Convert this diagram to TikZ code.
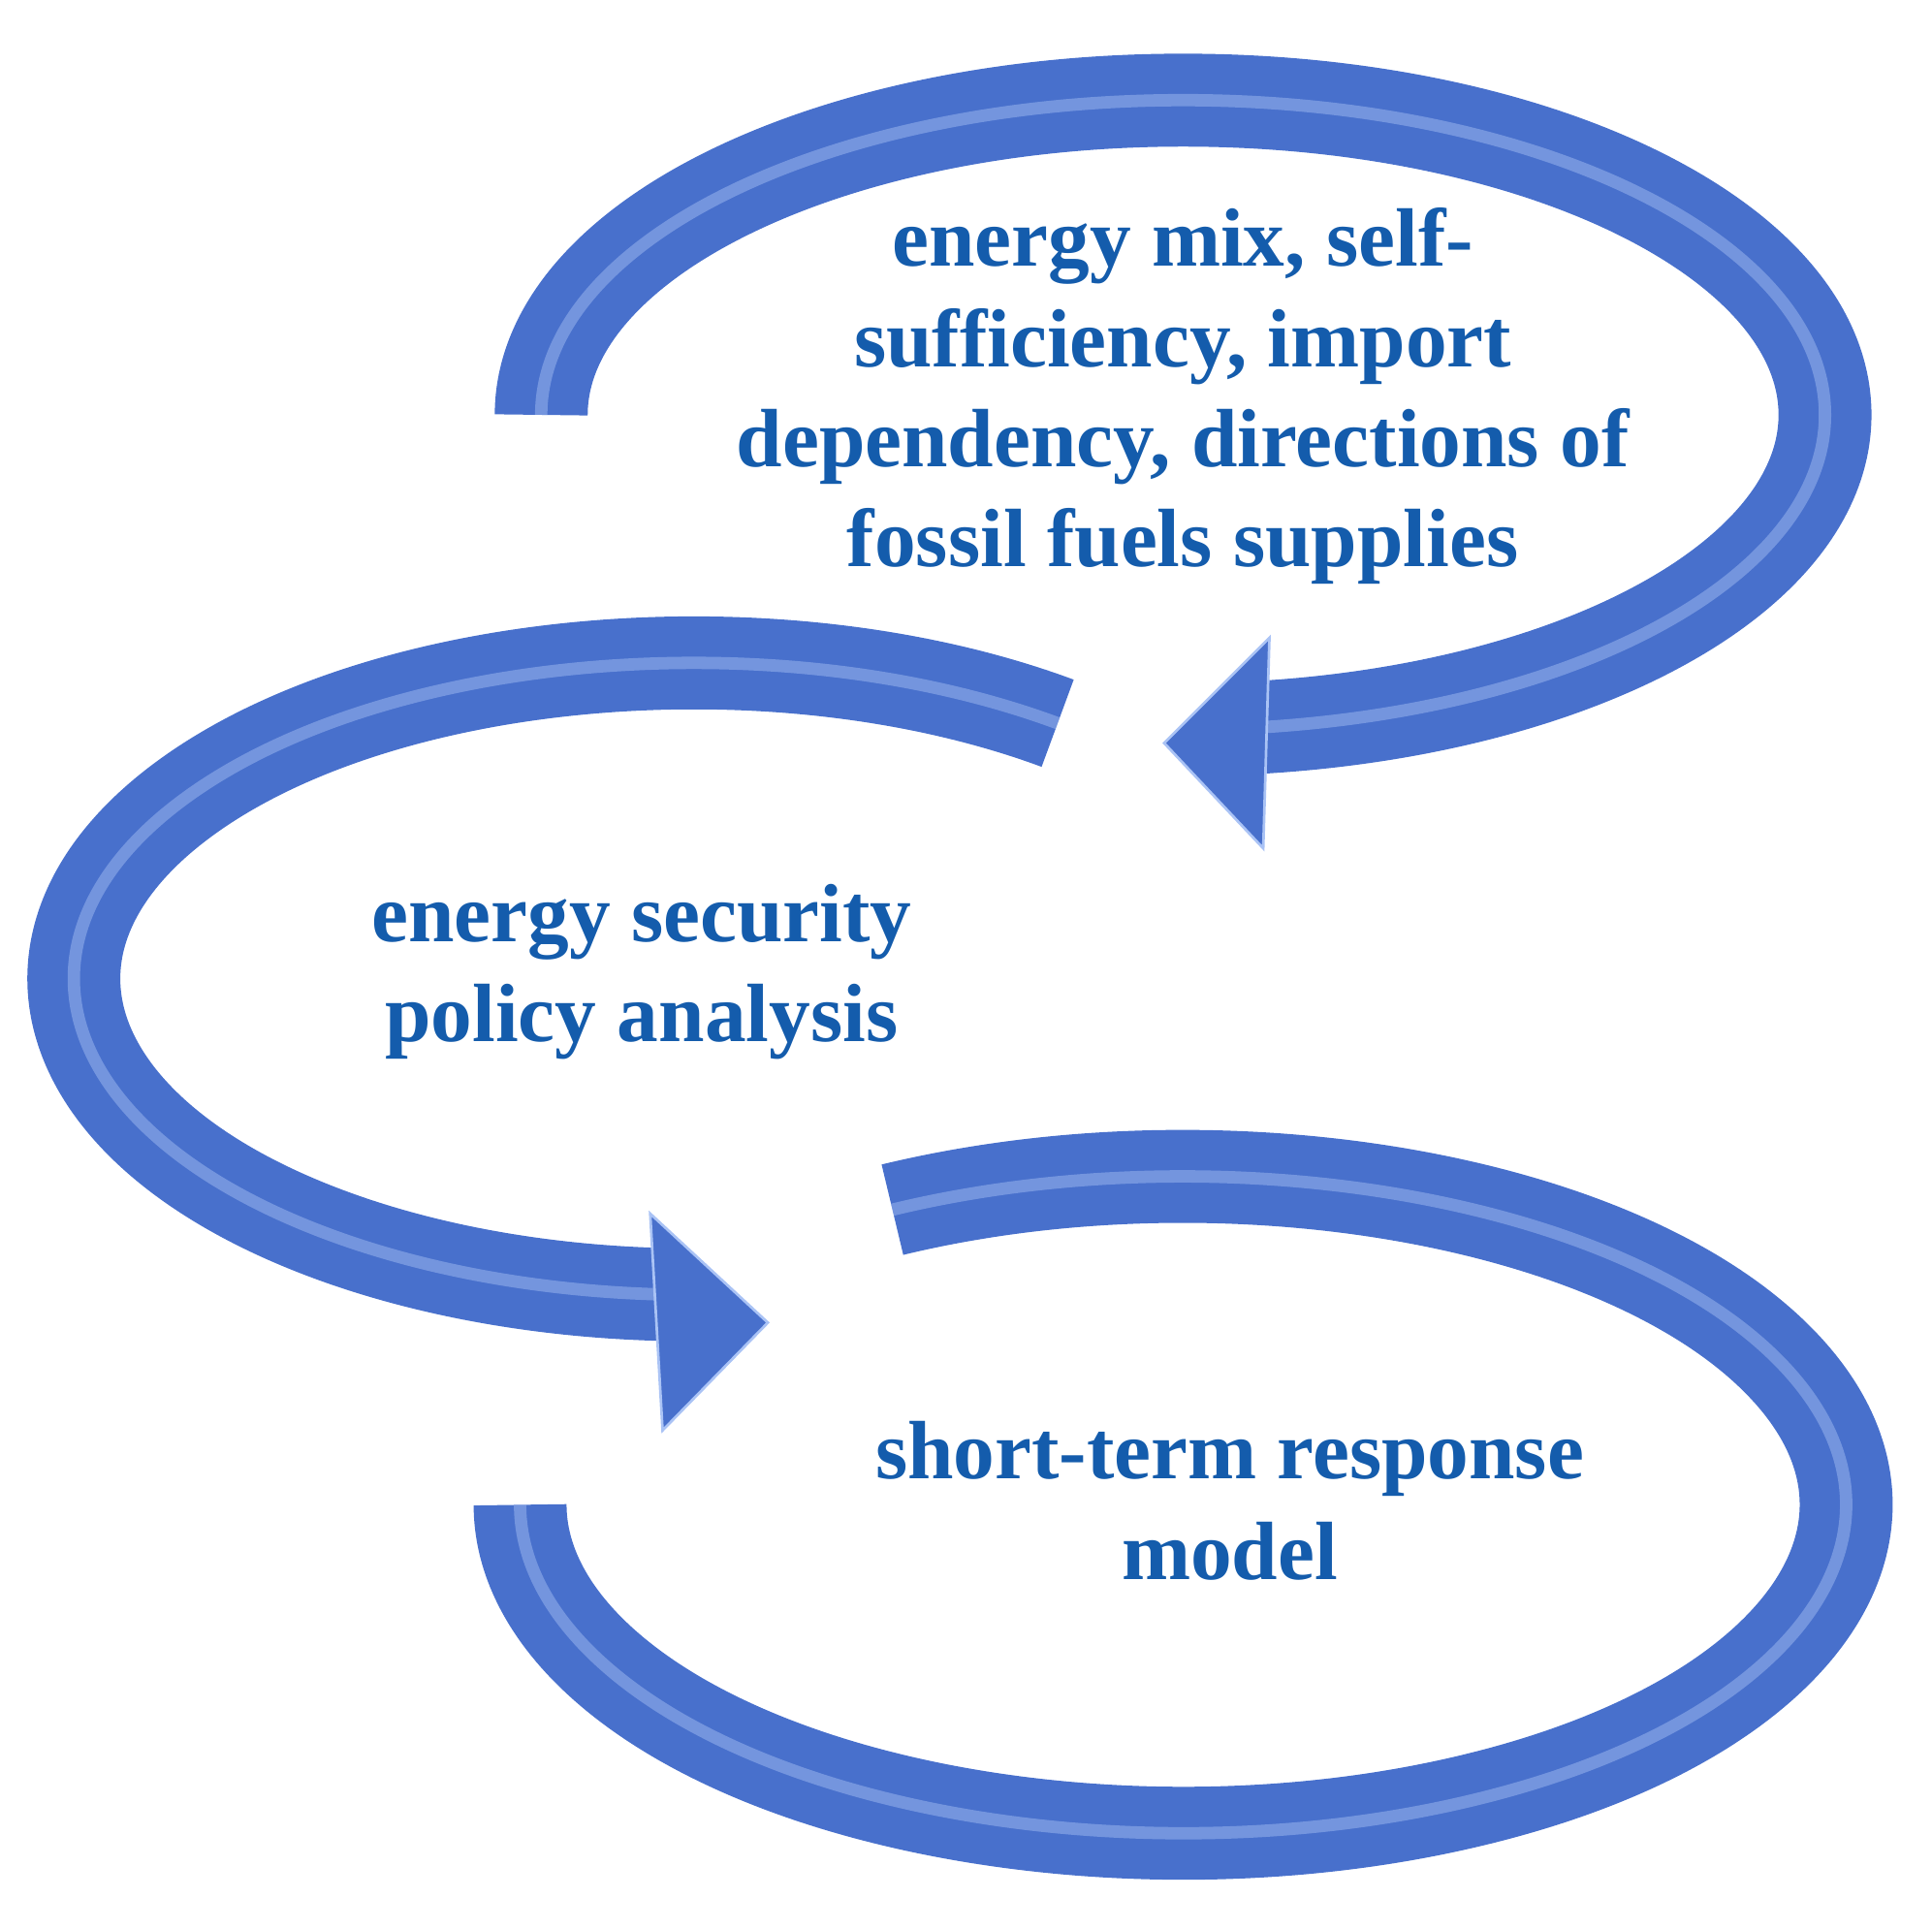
\documentclass[tikz,border=0pt]{standalone}
\usepackage{fontspec}
\setmainfont{Liberation Serif}
\definecolor{loopblue}{RGB}{72,112,204}
\definecolor{loopshine}{RGB}{170,195,245}
\definecolor{labelblue}{RGB}{20,92,172}
\tikzset{
  loop band/.style={line width=0.75cm, draw=loopblue, line cap=butt},
  loop shine/.style={line width=0.1cm, draw=loopshine, opacity=0.45, line cap=butt},
  loop head/.style={fill=loopblue, draw=loopshine, line width=0.6pt, line join=miter},
  label text/.style={text=labelblue, align=center, font=\bfseries\fontsize{19}{23}\selectfont}
}
\begin{document}
\begin{tikzpicture}[x=0.01cm,y=0.01cm]
  \useasboundingbox (0,0) rectangle (1560,-1557);
  % top loop
  \draw[loop band] (437,-335) arc[start angle=180, end angle=-85, x radius=5.18cm, y radius=2.54cm];
  \draw[loop shine] (437,-335) arc[start angle=180, end angle=-85, x radius=5.18cm, y radius=2.54cm];
  \fill[loop head] (1025,-515) -- (940,-600) -- (1020,-685) -- cycle;
  % middle loop
  \draw[loop band] (854,-584) arc[start angle=54, end angle=268, x radius=5cm, y radius=2.55cm];
  \draw[loop shine] (854,-584) arc[start angle=54, end angle=268, x radius=5cm, y radius=2.55cm];
  \fill[loop head] (525,-980) -- (620,-1068) -- (535,-1155) -- cycle;
  % bottom loop
  \draw[loop band] (720.6,-976.8) arc[start angle=116, end angle=-180, x radius=5.35cm, y radius=2.65cm];
  \draw[loop shine] (720.6,-976.8) arc[start angle=116, end angle=-180, x radius=5.35cm, y radius=2.65cm];
  % labels
  \node[label text] (mix) at (955,-320) {energy mix, self-\\sufficiency, import\\dependency, directions of\\fossil fuels supplies};
  \node[label text] (policy) at (518,-785) {energy security\\policy analysis};
  \node[label text] (model) at (993,-1212) {short-term response\\model};
\end{tikzpicture}
\end{document}
